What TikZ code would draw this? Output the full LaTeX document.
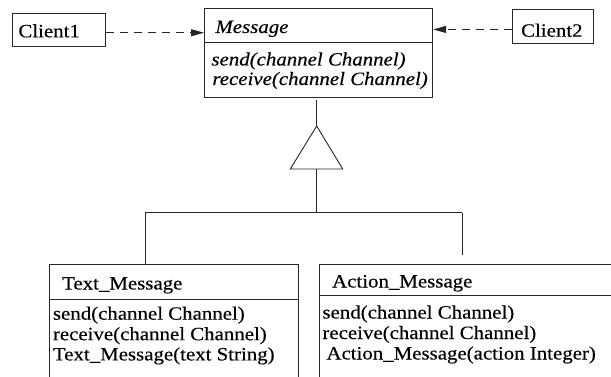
\documentclass[tikz,border=0pt]{standalone}
\usepackage{fontspec}
\setmainfont{Liberation Serif}[FakeStretch=1.11, FakeBold=0.3]
\usetikzlibrary{arrows.meta}
\begin{document}
\begin{tikzpicture}[x=1pt,y=-1pt, line width=0.9pt, draw=black!85,
  txt/.style={inner sep=0pt, anchor=base west, font=\fontsize{18.8}{20}\selectfont},
  itxt/.style={inner sep=0pt, anchor=base west, font=\fontsize{18.8}{20}\selectfont\itshape},
  box/.style={draw, inner sep=0pt, anchor=north west},
  openbox/.style={inner sep=0pt, anchor=north west},
  dep/.style={dash pattern=on 8pt off 6pt, -{Triangle[length=13pt,width=7pt]}},
  ]
\useasboundingbox (0,0) rectangle (611,377);

% Client1
\node[box, minimum width=92.7pt, minimum height=32.4pt] (c1) at (12.3,13.3) {};
\node[txt] (c1t) at (18,37.3) {Client1};

% Message
\node[box, minimum width=228.3pt, minimum height=89.3pt] (msg) at (204,8) {};
\draw ([yshift=-34.3pt]msg.north west) -- ([yshift=-34.3pt]msg.north east);
\node[itxt] (mname) at (215,33) {Message};
\node[itxt] (msend) at (211,65.5) {send(channel Channel)};
\node[itxt] (mrecv) at (212,85) {receive(channel Channel)};

% Client2
\node[box, minimum width=81pt, minimum height=33.4pt] (c2) at (512.3,9.3) {};
\node[txt] (c2t) at (520.7,36.7) {Client2};

% dependencies
\draw[dep] ([yshift=-2.8pt]c1.east) -- ([yshift=-2.8pt]c1.east -| msg.west);
\draw[dep] ([yshift=-3pt]c2.west) -- ([yshift=-3pt]c2.west -| msg.east);

% subclass boxes
\node[openbox, minimum width=248.5pt, minimum height=113.7pt] (tm) at (49,264.3) {};
\draw (tm.south west) -- (tm.north west) -- (tm.north east) -- (tm.south east);
\draw ([yshift=-35.2pt]tm.north west) -- ([yshift=-35.2pt]tm.north east);
\node[txt] (tmt) at (61.7,289.5) {Text\_Message};
\node[txt] (tm1) at (52.5,319.7) {send(channel Channel)};
\node[txt] (tm2) at (52.5,340.2) {receive(channel Channel)};
\node[txt] (tm3) at (52.5,360.4) {Text\_Message(text String)};

\node[openbox, minimum width=292.5pt, minimum height=113.5pt] (am) at (319.5,264.5) {};
\draw (am.south west) -- (am.north west) -- (am.north east);
\draw ([yshift=-30.5pt]am.north west) -- ([yshift=-30.5pt]am.north east);
\node[txt] (amt) at (331.7,287.5) {Action\_Message};
\node[txt] (am1) at (322,318.5) {send(channel Channel)};
\node[txt] (am2) at (322,339) {receive(channel Channel)};
\node[txt] (am3) at (326,359.5) {Action\_Message(action Integer)};

% generalization
\coordinate (mtop) at (316.7,100);
\coordinate (apex) at (316.7,126);
\coordinate (bl) at (290.3,169);
\coordinate (br) at (342.7,169);
\coordinate (bm) at (316.7,169);
\coordinate (jc) at (316.7,212.7);
\coordinate (jl) at (145,212.7);
\coordinate (jr) at (462.3,212.7);
\coordinate (jre) at (462.3,255);
\draw (mtop) -- (apex);
\draw (apex) -- (bl) -- (br) -- cycle;
\draw (bm) -- (jc);
\draw (jl) -- (jr);
\draw (jl) -- (jl |- tm.north);
\draw (jr) -- (jre);
\end{tikzpicture}
\end{document}
